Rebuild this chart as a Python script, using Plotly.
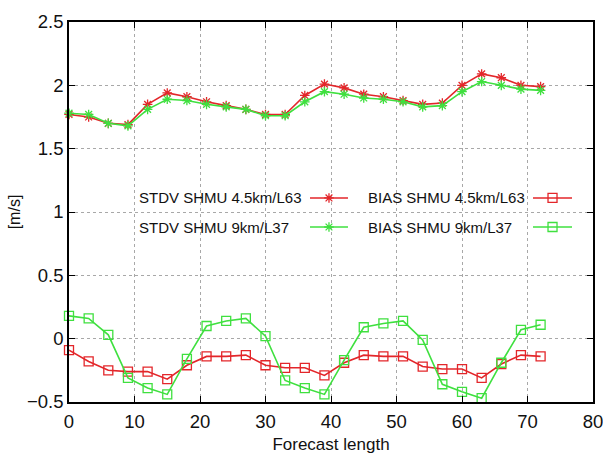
import plotly.graph_objects as go

hours = [0, 3, 6, 9, 12, 15, 18, 21, 24, 27, 30, 33, 36, 39, 42, 45, 48, 51, 54, 57, 60, 63, 66, 69, 72]

stdv_45 = [1.77, 1.75, 1.70, 1.69, 1.85, 1.94, 1.91, 1.87, 1.84, 1.81, 1.77, 1.77, 1.92,
           2.01, 1.98, 1.93, 1.91, 1.88, 1.85, 1.86, 2.00, 2.09, 2.06, 2.00, 1.99]
stdv_9 = [1.78, 1.77, 1.70, 1.68, 1.81, 1.89, 1.88, 1.85, 1.83, 1.81, 1.76, 1.76, 1.87,
          1.95, 1.93, 1.90, 1.89, 1.87, 1.83, 1.84, 1.95, 2.03, 2.00, 1.97, 1.96]
bias_45 = [-0.09, -0.18, -0.25, -0.26, -0.26, -0.32, -0.21, -0.14, -0.14, -0.13, -0.21, -0.23, -0.23,
           -0.29, -0.19, -0.13, -0.14, -0.14, -0.22, -0.24, -0.24, -0.31, -0.20, -0.13, -0.14]
bias_9 = [0.18, 0.16, 0.03, -0.31, -0.39, -0.44, -0.16, 0.10, 0.14, 0.16, 0.02, -0.33, -0.39,
          -0.44, -0.17, 0.09, 0.12, 0.14, -0.01, -0.36, -0.42, -0.47, -0.19, 0.07, 0.11]

labels = ["STDV SHMU 4.5km/L63", "BIAS SHMU 4.5km/L63", "STDV SHMU 9km/L37", "BIAS SHMU 9km/L37"]

RED = "#e3262a"
GREEN = "#3fe03f"
FONT = "Liberation Sans, Arial, sans-serif"

fig = go.Figure()

series = [
    (stdv_45, RED, "asterisk-open", 8),
    (stdv_9, GREEN, "asterisk-open", 8),
    (bias_45, RED, "square-open", 9),
    (bias_9, GREEN, "square-open", 9),
]
for vals, col, sym, sz in series:
    fig.add_trace(go.Scatter(
        x=hours, y=vals, mode="lines+markers",
        line=dict(color=col, width=1.6),
        marker=dict(symbol=sym, size=sz, color=col, line=dict(color=col, width=1.3)),
        showlegend=False, cliponaxis=False))

# legend samples (gnuplot style: text left, sample right) on overlay unit axes
leg = [
    (labels[0], 0.1298, 0.4599, 0.5324, 0.537, RED, "asterisk-open", 8),
    (labels[1], 0.5668, 0.8855, 0.9600, 0.537, RED, "square-open", 9),
    (labels[2], 0.1298, 0.4599, 0.5324, 0.4605, GREEN, "asterisk-open", 8),
    (labels[3], 0.5668, 0.8855, 0.9600, 0.4605, GREEN, "square-open", 9),
]
for text, tx, x0, x1, yy, col, sym, sz in leg:
    fig.add_trace(go.Scatter(
        x=[x0, x1], y=[yy, yy], xaxis="x2", yaxis="y2", mode="lines",
        line=dict(color=col, width=1.6), showlegend=False, hoverinfo="skip"))
    fig.add_trace(go.Scatter(
        x=[(x0 + x1) / 2], y=[yy], xaxis="x2", yaxis="y2", mode="markers",
        marker=dict(symbol=sym, size=sz, color=col, line=dict(color=col, width=1.3)),
        showlegend=False, hoverinfo="skip"))
    fig.add_annotation(x=tx, y=yy, xref="paper", yref="paper", text=text,
                       showarrow=False, xanchor="left", yanchor="middle",
                       font=dict(family=FONT, size=15, color="#111"))

axis_common = dict(
    showline=True, linecolor="black", linewidth=1.5, mirror="ticks",
    ticks="inside", ticklen=6, tickcolor="black", tickwidth=1,
    showgrid=True, gridcolor="#a8a8a8", griddash="dot", gridwidth=1,
    zeroline=False, automargin=False, ticklabeloverflow="allow",
    tickfont=dict(family=FONT, size=18.5, color="#111"),
)

fig.update_layout(
    width=603, height=454,
    margin=dict(l=69, r=10, t=22, b=52),
    paper_bgcolor="white", plot_bgcolor="white",
    xaxis=dict(range=[0, 80], dtick=10, tick0=0, ticklabelstandoff=2,
               title=dict(text="Forecast length", font=dict(family=FONT, size=17, color="#111"), standoff=11),
               **axis_common),
    yaxis=dict(range=[-0.5, 2.5], dtick=0.5, tick0=0, tickformat="~g",
               title=dict(text="[m/s]", font=dict(family=FONT, size=16, color="#111"), standoff=2),
               **axis_common),
    xaxis2=dict(overlaying="x", range=[0, 1], visible=False, fixedrange=True),
    yaxis2=dict(overlaying="y", range=[0, 1], visible=False, fixedrange=True),
)

fig.write_html("out.html")
